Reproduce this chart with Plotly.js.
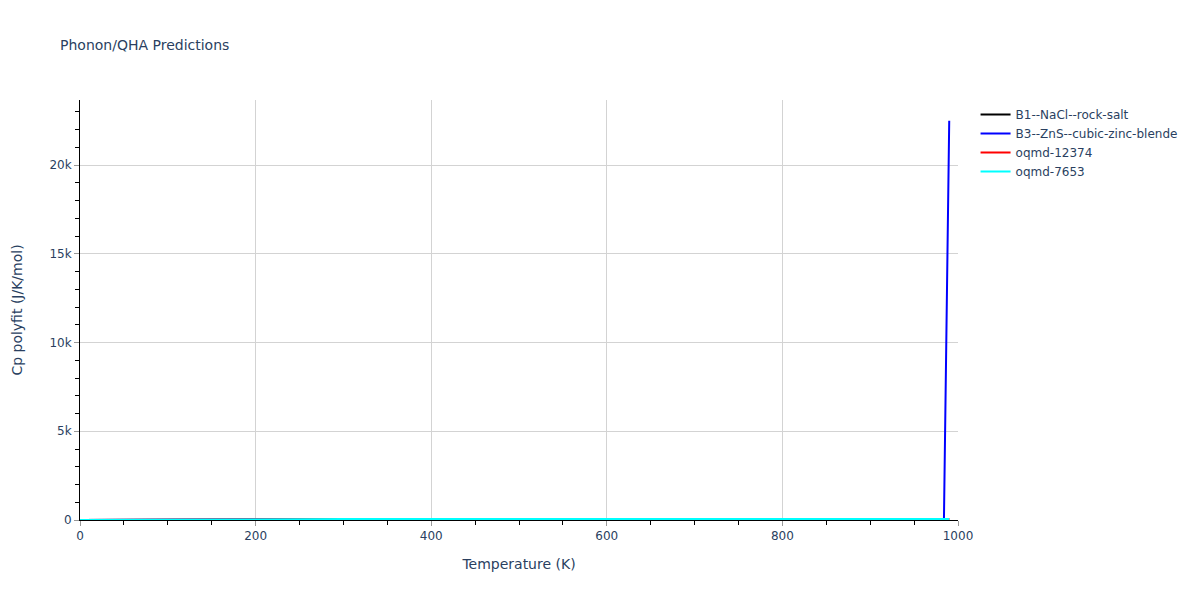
<!DOCTYPE html>
<html>
<head>
<meta charset="utf-8">
<script src="https://cdn.plot.ly/plotly-3.0.1.min.js"></script>
<style>html,body{margin:0;padding:0;background:#fff;}#chart{width:1200px;height:600px;}</style>
</head>
<body>
<div id="chart"></div>
<script>
// Temperatures (K)
var temps = [0, 10, 25, 50, 75, 100, 150, 200, 250, 300, 400, 500, 600, 700, 800, 900, 950, 980, 984, 990];
// Cp polyfit (J/K/mol)
var cpB1 = [0, 2, 12, 30, 39, 43, 47, 48.5, 49.2, 49.6, 50.0, 50.3, 50.5, 50.7, 50.9, 51.1, 51.2, 51.3, 51.3, 51.4];
var cpB3 = [0, 1.5, 10, 27, 37, 42, 46, 48, 49, 49.5, 50, 50.3, 50.6, 50.8, 51, 51.2, 51.3, 52, 60, 22500];
var cp12374 = [0, 2, 11, 29, 38, 42.5, 46.5, 48.2, 49, 49.5, 49.9, 50.2, 50.4, 50.6, 50.8, 51, 51.1, 51.2, 51.2, 51.3];
var cp7653 = [0, 1.8, 11, 28, 38, 42.5, 46.5, 48.2, 49, 49.5, 50, 50.3, 50.5, 50.7, 50.9, 51.1, 51.2, 51.3, 51.3, 51.4];

var names = ["B1--NaCl--rock-salt", "B3--ZnS--cubic-zinc-blende", "oqmd-12374", "oqmd-7653"];
var series = [cpB1, cpB3, cp12374, cp7653];
var colors = ["black", "blue", "red", "cyan"];

var traces = series.map(function (s, i) {
  return {
    x: temps, y: s, type: "scatter", mode: "lines", name: names[i],
    line: {color: colors[i], width: 2}
  };
});

var layout = {
  width: 1200, height: 600,
  paper_bgcolor: "white", plot_bgcolor: "white",
  font: {family: "Verdana, 'DejaVu Sans', sans-serif", size: 12, color: "#2a3f5f"},
  title: {text: "Phonon/QHA Predictions", x: 0.05, font: {size: 14, color: "#2a3f5f"}},
  margin: {l: 80, r: 242, t: 100, b: 80},
  xaxis: {
    title: {text: "Temperature (K)", font: {size: 14}, standoff: 16},
    range: [0, 1000], dtick: 200,
    showline: true, linecolor: "black", linewidth: 1,
    ticks: "outside", ticklen: 5, tickcolor: "#999",
    showgrid: true, gridcolor: "lightgrey", zeroline: false,
    minor: {dtick: 50, ticks: "outside", ticklen: 4, tickcolor: "black", showgrid: false}
  },
  yaxis: {
    title: {text: "Cp polyfit (J/K/mol)", font: {size: 14}, standoff: 23},
    range: [0, 23670], dtick: 5000,
    showline: true, linecolor: "black", linewidth: 1,
    ticks: "outside", ticklen: 5, tickcolor: "#999",
    showgrid: true, gridcolor: "lightgrey", zeroline: false,
    minor: {dtick: 1000, ticks: "outside", ticklen: 4, tickcolor: "black", showgrid: false}
  },
  legend: {x: 1.02, y: 1, font: {size: 12}},
  showlegend: true
};

Plotly.newPlot("chart", traces, layout, {displayModeBar: false});
</script>
</body>
</html>
